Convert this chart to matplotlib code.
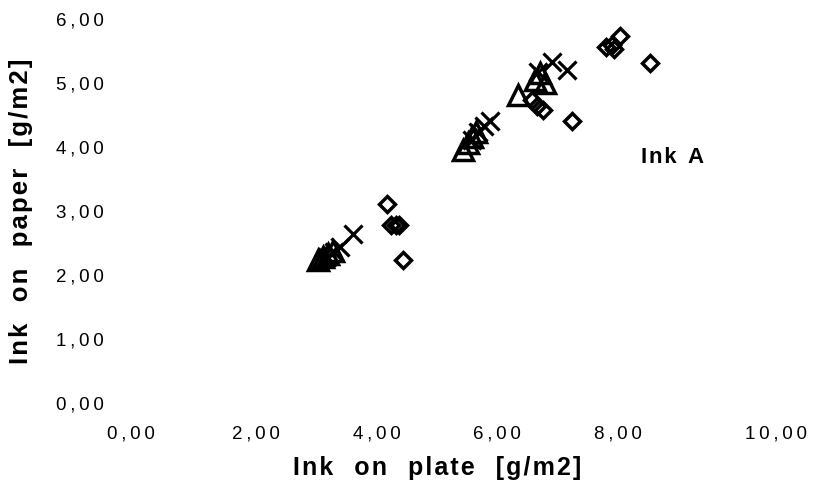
import matplotlib
matplotlib.use('Agg')
import matplotlib.pyplot as plt
from matplotlib.transforms import ScaledTranslation

# Ink transfer data
tri_x = [3.03, 3.11, 3.19, 3.28, 5.43, 5.51, 5.58, 5.65, 6.34, 6.63, 6.71, 6.79]
tri_y = [2.23, 2.28, 2.33, 2.38, 3.95, 4.06, 4.16, 4.23, 4.81, 5.05, 5.16, 5.00]

cross_x = [3.18, 3.29, 3.39, 3.61, 5.58, 5.68, 5.78, 5.88, 6.67, 6.91, 7.16]
cross_y = [2.28, 2.36, 2.44, 2.64, 4.11, 4.23, 4.33, 4.41, 5.17, 5.33, 5.20]

dia_x = [4.17, 4.24, 4.32, 4.37, 4.44, 6.58, 6.66, 6.76, 7.24, 7.80, 7.90, 7.94, 8.03, 8.53]
dia_y = [3.11, 2.78, 2.78, 2.78, 2.23, 4.73, 4.64, 4.58, 4.41, 5.56, 5.59, 5.53, 5.73, 5.31]

x_ticks = [0, 2, 4, 6, 8, 10]
y_ticks = [0, 1, 2, 3, 4, 5, 6]

plt.rcParams['font.family'] = ['Liberation Sans', 'DejaVu Sans']


def spaced(s, sep):
    # old excel charts have very loose letter spacing
    return sep.join(s)


def tick_fmt(v):
    return spaced(f"{v:.2f}".replace('.', ','), '\u2009')


def label_fmt(s):
    return '   '.join(spaced(w, '\u200a') for w in s.split(' '))


fig = plt.figure(figsize=(8.19, 4.98), dpi=100)
ax = fig.add_axes([0.1654, 0.1908, 0.7363, 0.7711])

ax.plot(dia_x, dia_y, 'D', ms=8.5, mfc='none', mec='black', mew=2.5)
ax.plot(tri_x, tri_y, '^', ms=14, mfc='none', mec='black', mew=2.5)
ax.plot(cross_x, cross_y, 'x', ms=13, color='black', mew=2.3)

ax.set_xlim(0, 10)
ax.set_ylim(0, 6)
ax.set_xticks(x_ticks)
ax.set_yticks(y_ticks)
ax.set_xticklabels([tick_fmt(v) for v in x_ticks], fontsize=13.5)
ax.set_yticklabels([tick_fmt(v) for v in y_ticks], fontsize=13.5)
ax.tick_params(length=0)
ax.tick_params(axis='x', pad=16)
ax.tick_params(axis='y', pad=23)
for s in ax.spines.values():
    s.set_visible(False)

# first and last x labels sit a bit off in the original
first = ax.get_xticklabels()[0]
first.set_transform(first.get_transform() + ScaledTranslation(-0.05, 0, fig.dpi_scale_trans))
last = ax.get_xticklabels()[-1]
last.set_transform(last.get_transform() + ScaledTranslation(0.38, 0, fig.dpi_scale_trans))

ax.set_xlabel(label_fmt("Ink on plate [g/m2]"), fontsize=18, fontweight='bold', labelpad=10)
ax.set_ylabel(label_fmt("Ink on paper [g/m2]"), fontsize=18.5, fontweight='bold', labelpad=16)
ax.text(8.9, 3.83, label_fmt("Ink A").replace('   ', '  '), fontsize=16, fontweight='bold',
        ha='center', va='center')

fig.savefig("out.png", dpi=100)
